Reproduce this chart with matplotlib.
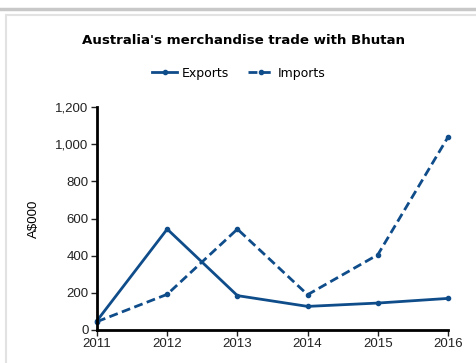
import matplotlib.pyplot as plt
from matplotlib.lines import Line2D
from matplotlib.ticker import FuncFormatter

# Australia's merchandise trade with Bhutan, A$000
years = [2011, 2012, 2013, 2014, 2015, 2016]
exports = [50, 543, 185, 127, 145, 170]
imports = [45, 192, 543, 190, 405, 1038]

color = '#0f4c8a'

fig = plt.figure(figsize=(4.77, 3.63), dpi=100)
fig.patch.set_facecolor('white')

# panel frame lines
fig.add_artist(Line2D([0, 1], [1 - 9 / 363, 1 - 9 / 363], color='#c8c8c8', lw=2.5))
fig.add_artist(Line2D([7 / 477, 1], [1 - 14.5 / 363, 1 - 14.5 / 363], color='#e2e2e2', lw=1.5))
fig.add_artist(Line2D([6.5 / 477, 6.5 / 477], [0, 1 - 14.5 / 363], color='#e2e2e2', lw=1.5))

ax = fig.add_axes([97 / 477, 1 - 330 / 363, (448 - 97) / 477, (330 - 107) / 363])
ax.plot(years, exports, color=color, lw=2, marker='o', markersize=3, label='Exports')
ax.plot(years, imports, color=color, lw=2, ls=(0, (3.2, 1.6)), marker='o', markersize=3,
        label='Imports')

ax.set_xlim(2011, 2016)
ax.set_ylim(0, 1200)
ax.set_xticks(years)
ax.set_yticks(range(0, 1201, 200))
ax.yaxis.set_major_formatter(FuncFormatter(lambda v, p: f'{int(v):,}'))
for s in ['top', 'right']:
    ax.spines[s].set_visible(False)
for s in ['left', 'bottom']:
    ax.spines[s].set_linewidth(2)
    ax.spines[s].set_color('black')
ax.tick_params(axis='both', labelsize=9.5, length=4, width=1, pad=2,
               labelfontfamily='Liberation Sans', colors='#222222')
for line in ax.lines:
    line.set_clip_on(False)

ax.set_ylabel('A$000', fontsize=9.5, family='Liberation Sans', labelpad=11)

fig.text(244 / 477, 1 - 40 / 363, "Australia's merchandise trade with Bhutan",
         ha='center', va='center', fontsize=9.6, fontweight='bold', family='DejaVu Sans')
fig.legend(loc='center', bbox_to_anchor=(239 / 477, 1 - 73 / 363), ncol=2, frameon=False,
           fontsize=9, handlelength=2.0, columnspacing=1.5, handletextpad=0.4)

fig.savefig('out.png', dpi=100)
